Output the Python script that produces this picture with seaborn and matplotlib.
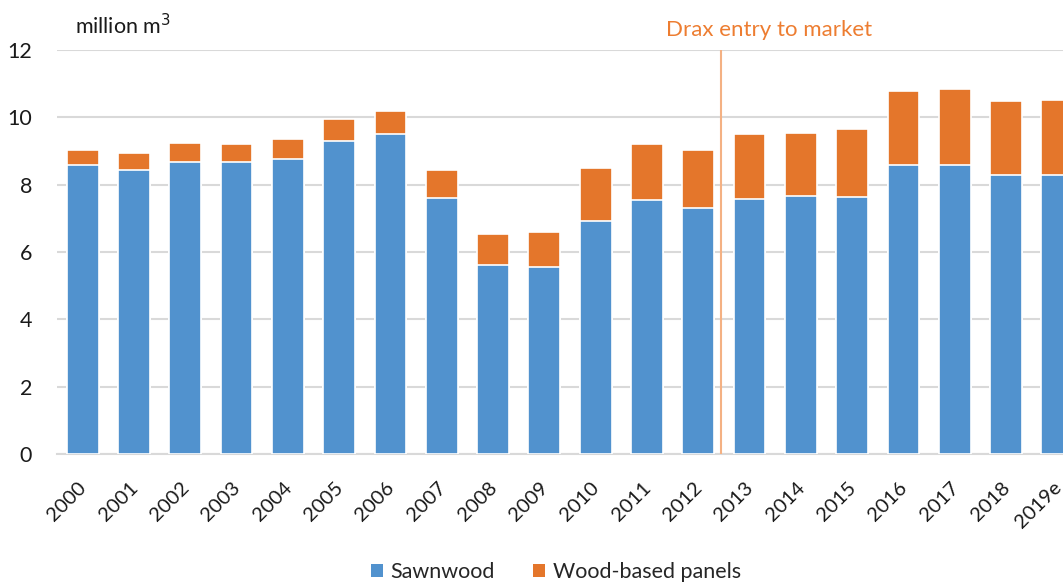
import matplotlib
matplotlib.use("Agg")
import matplotlib.pyplot as plt
import matplotlib.transforms as mtransforms
import seaborn as sns
import pandas as pd
from matplotlib.patches import Patch

years = ["2000", "2001", "2002", "2003", "2004", "2005", "2006", "2007", "2008", "2009",
         "2010", "2011", "2012", "2013", "2014", "2015", "2016", "2017", "2018", "2019e"]
sawnwood = [8.58, 8.43, 8.67, 8.67, 8.76, 9.30, 9.50, 7.60, 5.60, 5.55,
            6.92, 7.55, 7.30, 7.58, 7.67, 7.63, 8.57, 8.59, 8.29, 8.29]
panels = [0.45, 0.51, 0.57, 0.54, 0.60, 0.65, 0.69, 0.85, 0.92, 1.05,
          1.58, 1.65, 1.72, 1.92, 1.85, 2.01, 2.21, 2.24, 2.20, 2.22]
yticks = [0, 2, 4, 6, 8, 10, 12]

blue = "#5192CE"
orange = "#E4762B"

df = pd.DataFrame({"year": years, "sawnwood": sawnwood, "panels": panels})
df["total"] = df["sawnwood"] + df["panels"]

sns.set_theme(style="white")
plt.rcParams["font.family"] = ["Lato", "DejaVu Sans"]

fig = plt.figure(figsize=(10.63, 5.83), dpi=100)
ax = fig.add_axes([57 / 1063, 1 - 454 / 583, 1026 / 1063, 404 / 583])

sns.barplot(data=df, x="year", y="total", color=orange, saturation=1, width=0.62,
            edgecolor="white", linewidth=1.2, ax=ax, zorder=2)
sns.barplot(data=df, x="year", y="sawnwood", color=blue, saturation=1, width=0.62,
            edgecolor="white", linewidth=1.2, ax=ax, zorder=3)

ax.set_ylim(0, 12)
ax.set_xlim(-0.5, len(years) - 0.5)
ax.set_yticks(yticks)
ax.set_yticklabels([str(v) for v in yticks], fontsize=15.5, color="#1a1a1a")
ax.yaxis.grid(True, color="#D9D9D9", linewidth=1.5, zorder=0)
ax.set_axisbelow(True)
for s in ["top", "right", "left"]:
    ax.spines[s].set_visible(False)
ax.spines["bottom"].set_color("#D9D9D9")
ax.spines["bottom"].set_linewidth(1.5)
ax.tick_params(axis="y", length=0, pad=18)
ax.tick_params(axis="x", length=0, pad=18)
ax.set_xticks(range(len(years)))
ax.set_xticklabels(years, rotation=45, ha="right", rotation_mode="anchor", fontsize=14.5,
                   color="#1a1a1a")
offset = mtransforms.ScaledTranslation(-5 / 100, 0, fig.dpi_scale_trans)
for lab in ax.get_xticklabels():
    lab.set_transform(lab.get_transform() + offset)
ax.set_xlabel("")
ax.set_ylabel("")

ax.axvline(12.44, ymin=0, ymax=1, color="#F4B183", linewidth=1.5, zorder=4)
ax.text(12.44 + 0.95, 12.3, "Drax entry to market", color="#ED7D31", fontsize=16,
        ha="center", va="bottom")
ax.text(0.0 - 0.15, 12.35, "million m$^3$", color="#1a1a1a", fontsize=15.5,
        ha="left", va="bottom")

handles = [Patch(facecolor=blue, edgecolor="none", label="Sawnwood"),
           Patch(facecolor=orange, edgecolor="none", label="Wood-based panels")]
fig.legend(handles=handles, loc="lower center", bbox_to_anchor=(0.523, -0.031), ncol=2,
           frameon=False, fontsize=15.5, handlelength=0.55, handleheight=0.55,
           handletextpad=0.35, columnspacing=1.8)

fig.savefig("out.png", dpi=100)
